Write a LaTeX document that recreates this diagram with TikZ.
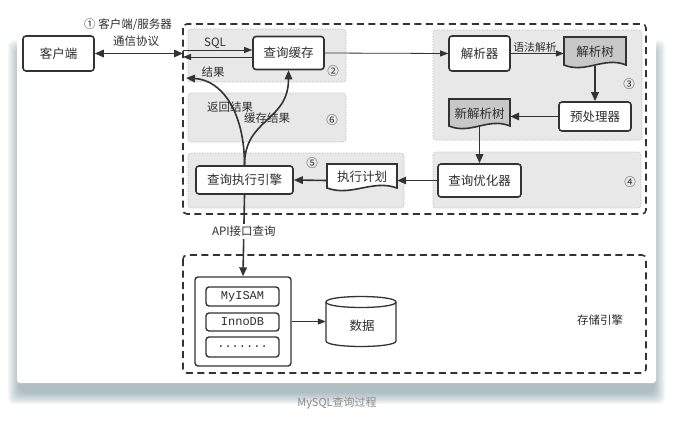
\documentclass[tikz,border=0pt]{standalone}
\usepackage{fontspec}
\setmainfont{Noto Sans CJK SC}
\newfontfamily\monof{Liberation Mono}
\usetikzlibrary{arrows.meta,calc}
\definecolor{linec}{HTML}{333333}
\definecolor{regionfill}{HTML}{E8E8E8}
\definecolor{regiondraw}{HTML}{B0B0B0}
\definecolor{docfill}{HTML}{C8C8C8}
\definecolor{txt}{HTML}{2E2E2E}
\definecolor{shadowc}{HTML}{5E7F87}
\definecolor{capc}{HTML}{8A8A8A}
\newcommand\docnode[7]{%
  \draw[docline,fill=#6] (#2,#3) -- ({#2+#4},#3) -- ({#2+#4},{#3+#5})
    .. controls ({#2+#4*0.65},{#3+#5-9}) and ({#2+#4*0.35},{#3+#5+9}) .. (#2,{#3+#5}) -- cycle;
  \node[boxtext, minimum width=#4pt, minimum height=#5pt] (#1) at ({#2+#4/2},{#3+#5/2+1}) {#7};}
\begin{document}
\begin{tikzpicture}[x=1pt,y=-1pt,
  boxtext/.style={inner sep=0pt, text=txt, font=\fontsize{12.5}{13}\selectfont},
  box/.style={boxtext, draw=linec, line width=1.6pt, rounded corners=3pt, fill=white},
  docline/.style={draw=linec, line width=1.6pt},
  region/.style={draw=regiondraw, densely dotted, line width=0.6pt, fill=regionfill, rounded corners=3pt},
  dashbox/.style={draw=linec, line width=1.6pt, dash pattern=on 7pt off 4.5pt, rounded corners=4pt},
  thinarr/.style={draw=linec, line width=0.8pt, -{Triangle[length=8pt,width=6pt]}},
  thickarr/.style={draw=linec, line width=1.6pt, -{Triangle[length=9pt,width=7.5pt]}},
  dblarr/.style={draw=linec, line width=1.6pt, {Triangle[length=9pt,width=7.5pt]}-{Triangle[length=9pt,width=7.5pt]}},
  lbl/.style={inner sep=1pt, text=txt, font=\fontsize{11.5}{12}\selectfont},
  small/.style={inner sep=1pt, text=txt, font=\fontsize{10.8}{11}\selectfont},
  mono/.style={draw=linec, line width=1.4pt, rounded corners=3pt, fill=white, inner sep=0pt,
     minimum width=73pt, text=txt, font=\monof\fontsize{12}{12}\selectfont}]
\useasboundingbox (0,0) rectangle (676,423);
\fill[white] (0,0) rectangle (676,423);
% card shadow and card
\foreach \i in {0,...,11}
  \fill[shadowc, opacity=0.05, rounded corners=6pt] ({8+\i},{40+\i}) rectangle ({665-\i},{404-\i});
\fill[white, rounded corners=3pt] (17,9) rectangle (656,383);
% gray regions
\draw[region] (188,29) rectangle (346,82);
\draw[region] (188,93) rectangle (346,142);
\draw[region] (188,153) rectangle (404,208);
\draw[region] (433,30) rectangle (642,140);
\draw[region] (433,152) rectangle (641,208);
% dashed containers
\draw[dashbox] (183,24) rectangle (646,214);
\draw[dashbox] (183,255) rectangle (646,373);
% nodes
\node[box, minimum width=71pt, minimum height=35pt] (client) at (58.5,53.5) {客户端};
\node[box, minimum width=71pt, minimum height=33pt] (cache) at (288.5,53) {查询缓存};
\node[box, minimum width=61pt, minimum height=35pt] (parser) at (479.5,53.5) {解析器};
\docnode{tree}{564}{37}{62}{28}{docfill}{解析树}
\node[box, minimum width=72pt, minimum height=29pt] (pre) at (595,116.5) {预处理器};
\docnode{newtree}{449}{99}{61}{27}{docfill}{新解析树}
\node[box, minimum width=83pt, minimum height=33pt] (opt) at (479.5,180.5) {查询优化器};
\docnode{plan}{327}{164}{70}{24}{white}{执行计划}
\node[box, minimum width=97pt, minimum height=28pt] (exec) at (244.5,180) {查询执行引擎};
\node[draw=linec, line width=1.4pt, rounded corners=3pt, fill=white, minimum width=96pt, minimum height=89pt] (eng) at (243,321.5) {};
\node[mono, minimum height=19pt] (myisam) at (242.5,296.5) {MyISAM};
\node[mono, minimum height=18pt] (innodb) at (242.5,322) {InnoDB};
\node[mono, minimum height=20pt] (more) at (242.5,347) {.......};
% cylinder
\draw[draw=linec, line width=1.3pt, fill=white] (326,302) -- (326,341) .. controls (326,348.3) and (396,348.3) .. (396,341)
  -- (396,302) .. controls (396,294.7) and (326,294.7) .. (326,302) -- cycle;
\draw[draw=linec, line width=1.3pt] (326,302) .. controls (326,309.3) and (396,309.3) .. (396,302);
\node[boxtext, minimum width=70pt, minimum height=49pt] (db) at (361,321.5) {};
\node[boxtext] (dbtext) at (362,326) {数据};
% coordinates on the server edge
\coordinate (srvL) at (183,53.5);
\coordinate (sqlin) at (183,50);
\coordinate (resout) at (183,57);
\coordinate (retpt) at (186,78);
% connectors
\draw[dblarr] (client.east) -- (srvL);
\draw[thinarr] (sqlin) -- (sqlin -| cache.west);
\draw[thinarr] (resout -| cache.west) -- (resout);
\draw[thinarr] (cache.east) -- (parser.west);
\draw[thinarr] (parser.east) -- (parser.east -| tree.west);
\draw[thickarr] (tree.south) -- (pre.north);
\draw[thickarr] (pre.west) -- (pre.west -| newtree.east);
\draw[thickarr] (newtree.south) -- (opt.north);
\draw[thickarr] (opt.west) -- (opt.west -| plan.east);
\draw[thickarr] (opt.west -| plan.west) -- (exec.east);
\draw[thickarr] (exec.north) .. controls (244.5,112) and (222,80) .. (retpt);
\draw[thickarr] (exec.north) .. controls (244.5,118) and (288.5,122) .. (cache.south);
\draw[thickarr] (exec.south) -- node[pos=0.45, lbl, fill=white, inner sep=2pt] (api) {API接口查询} (eng.north);
\draw[thinarr] (eng.east) -- (db.west);
% labels
\node[lbl] (l1) at (128,25) {① 客户端/服务器};
\node[lbl] (l1b) at (136,41) {通信协议};
\node[lbl] (lsql) at (215,43) {SQL};
\node[lbl] (lres) at (213,72) {结果};
\node[lbl] (n2) at (333,71) {②};
\node[small] (lsyn) at (535,47) {语法解析};
\node[lbl] (n3) at (629,84) {③};
\node[lbl] (n4) at (630,182) {④};
\node[lbl] (n5) at (312,163) {⑤};
\node[lbl] (n6) at (332,120) {⑥};
\node[lbl] (lret) at (230,107) {返回结果};
\node[lbl] (lcache) at (267,118) {缓存结果};
\node[lbl] (lstore) at (600,320) {存储引擎};
\node[inner sep=0pt, text=capc, font=\fontsize{11}{12}\selectfont] (cap) at (337,403) {MySQL查询过程};
\end{tikzpicture}
\end{document}
